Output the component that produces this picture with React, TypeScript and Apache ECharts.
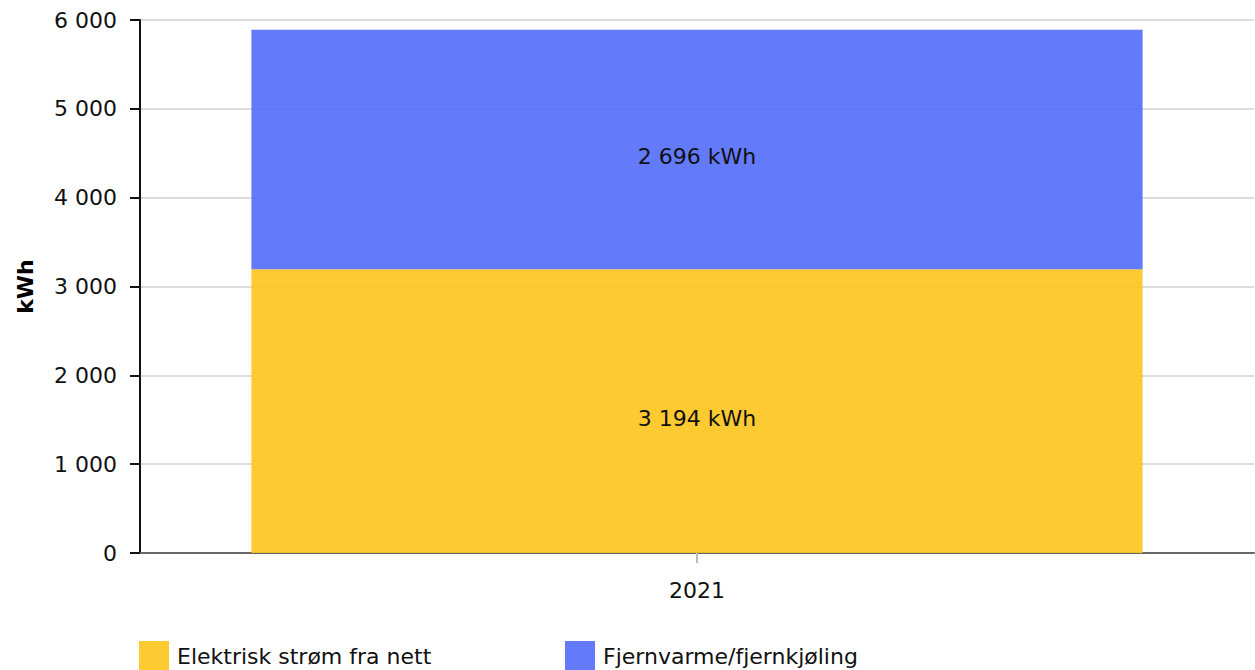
import React, { useEffect, useRef } from "react";
import * as echarts from "echarts";

const categories = ["2021"];
const seriesNames = ["Elektrisk strøm fra nett", "Fjernvarme/fjernkjøling"];
const electricity = [3194];
const districtHeating = [2696];
const yTicks = [0, 1000, 2000, 3000, 4000, 5000, 6000];

const FONT = "'DejaVu Sans', Verdana, sans-serif";
const FS = 22;

const fmt = (v: number) => String(Math.round(v)).replace(/\B(?=(\d{3})+(?!\d))/g, " ");

export default function App() {
  const ref = useRef<HTMLDivElement>(null);
  useEffect(() => {
    if (!ref.current) return;
    const chart = echarts.init(ref.current, undefined, { renderer: "svg" });
    const colors = ["rgba(253,196,28,0.9)", "rgba(82,108,251,0.9)"];
    const legendText = { fontSize: FS, color: "#111", fontFamily: FONT, padding: [0, 0, 0, 3] };
    chart.setOption({
      animation: false,
      textStyle: { fontFamily: FONT },
      grid: { left: 140, right: 1, top: 20, bottom: 117, containLabel: false },
      legend: [
        {
          data: [seriesNames[0]],
          left: 139,
          top: 641,
          itemWidth: 30,
          itemHeight: 30,
          icon: "rect",
          textStyle: legendText,
          padding: 0,
          itemGap: 8,
        },
        {
          data: [seriesNames[1]],
          left: 565,
          top: 641,
          itemWidth: 30,
          itemHeight: 30,
          icon: "rect",
          textStyle: legendText,
          padding: 0,
          itemGap: 8,
        },
      ],
      xAxis: {
        type: "category",
        data: categories,
        axisLine: { lineStyle: { color: "#666", width: 2 } },
        axisTick: { show: true, alignWithLabel: true, length: 10, lineStyle: { color: "#bbb", width: 2 } },
        axisLabel: { fontSize: FS, color: "#111", margin: 26, fontFamily: FONT },
      },
      yAxis: {
        type: "value",
        min: yTicks[0],
        max: yTicks[yTicks.length - 1],
        interval: 1000,
        name: "kWh",
        nameLocation: "middle",
        nameGap: 104,
        nameTextStyle: { fontSize: FS, fontWeight: "bold", color: "#000", fontFamily: FONT },
        axisLine: { show: true, lineStyle: { color: "#111", width: 2 } },
        axisTick: { show: true, length: 10, lineStyle: { color: "#111", width: 2 } },
        axisLabel: { fontSize: FS, color: "#111", margin: 23, fontFamily: FONT, formatter: (v: number) => fmt(v) },
        splitLine: { show: true, lineStyle: { color: "#dcdcdc", width: 2 } },
      },
      series: [
        {
          name: seriesNames[0],
          type: "bar",
          stack: "total",
          data: electricity,
          barWidth: "80%",
          itemStyle: { color: colors[0] },
          label: {
            show: true,
            position: "inside",
            offset: [0, 7],
            fontSize: FS,
            color: "#111",
            fontFamily: FONT,
            formatter: (p: any) => fmt(p.value) + " kWh",
          },
        },
        {
          name: seriesNames[1],
          type: "bar",
          stack: "total",
          data: districtHeating,
          barWidth: "80%",
          itemStyle: { color: colors[1] },
          label: {
            show: true,
            position: "inside",
            offset: [0, 7],
            fontSize: FS,
            color: "#111",
            fontFamily: FONT,
            formatter: (p: any) => fmt(p.value) + " kWh",
          },
        },
      ],
    });
    return () => chart.dispose();
  }, []);
  return <div ref={ref} style={{ width: 1255, height: 670, position: "absolute", left: 0, top: 0 }} />;
}
